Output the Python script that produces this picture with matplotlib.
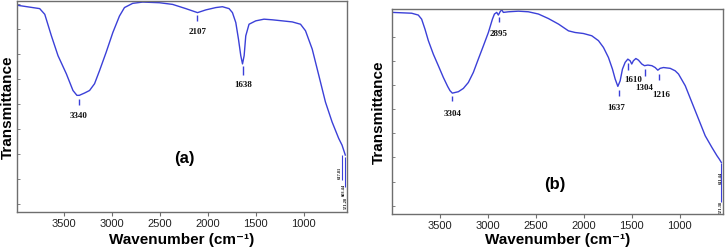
import matplotlib.pyplot as plt
import numpy as np

# ---- panel (a) spectrum (wavenumber, transmittance %)
wn_a = [3988, 3753, 3700, 3631, 3562, 3475, 3406, 3365, 3340, 3285, 3233, 3181,
        3129, 3060, 2990, 2921, 2869, 2783, 2679, 2505, 2367, 2229, 2107, 2020,
        1916, 1847, 1778, 1743, 1708, 1680, 1656, 1638, 1621, 1604, 1570, 1500,
        1414, 1327, 1223, 1119, 1033, 981, 911, 842, 773, 704, 635, 600, 566]
t_a = [98.0, 96.4, 93.7, 83.5, 74.1, 65.5, 57.6, 55.3, 55.3, 56.4, 57.6, 60.8,
       67.0, 75.7, 85.1, 92.9, 96.9, 98.9, 99.5, 99.2, 98.4, 96.4, 94.5, 95.8,
       96.9, 97.3, 96.4, 94.5, 89.8, 81.9, 74.1, 70.2, 74.1, 83.5, 89.0, 90.6,
       91.4, 91.1, 90.6, 90.1, 89.0, 85.9, 77.2, 64.7, 52.1, 42.7, 34.9, 31.7, 27.0]

# ---- panel (b) spectrum
wn_b = [3997, 3795, 3726, 3691, 3656, 3621, 3569, 3517, 3465, 3420, 3395, 3371,
        3308, 3256, 3204, 3152, 3100, 3047, 2995, 2953, 2932, 2908, 2891, 2873,
        2856, 2839, 2786, 2682, 2578, 2473, 2369, 2264, 2160, 2091, 2004, 1917,
        1847, 1795, 1743, 1701, 1673, 1645, 1621, 1597, 1569, 1541, 1517, 1500,
        1483, 1457, 1430, 1395, 1367, 1332, 1290, 1256, 1228, 1204, 1169, 1099,
        1047, 1012, 942, 873, 803, 734, 664, 612, 587, 566]
t_b = [98.4, 98.0, 97.1, 95.1, 90.2, 84.6, 78.0, 72.4, 66.7, 62.3, 60.2, 59.0,
       59.7, 61.3, 64.2, 69.1, 75.6, 82.1, 88.6, 95.1, 97.6, 98.4, 97.1, 98.7,
       99.7, 98.4, 98.7, 99.0, 98.7, 97.6, 95.4, 92.7, 89.4, 88.6, 88.1, 87.0,
       84.6, 81.3, 76.4, 70.7, 65.9, 62.3, 65.0, 70.7, 74.0, 75.6, 74.8, 73.2,
       74.8, 75.9, 75.1, 73.2, 72.4, 72.7, 72.4, 71.5, 70.2, 71.1, 71.5, 71.1,
       69.9, 68.3, 62.6, 54.5, 46.3, 38.2, 32.5, 28.5, 26.8, 25.2]

# peak markers: marker x, marker top/bottom, label text, label x, label y
pk_a_x = [3347, 2110, 1638]
pk_a_top = [53.5, 93.5, 69.0]
pk_a_bot = [50.5, 90.5, 65.0]
pk_a_txt = ["3340", "2107", "1638"]
pk_a_lx = [3347, 2110, 1630]
pk_a_ly = [48.0, 87.5, 62.5]

pk_b_x = [3371, 2884, 1638, 1534, 1367, 1221]
pk_b_top = [57.5, 96.0, 60.5, 73.5, 71.0, 68.5]
pk_b_bot = [55.0, 93.5, 57.5, 70.5, 67.5, 65.5]
pk_b_txt = ["3304", "2895", "1637", "1610", "1304", "1216"]
pk_b_lx = [3371, 2884, 1660, 1480, 1375, 1196]
pk_b_ly = [51.5, 90.5, 54.0, 68.0, 64.0, 60.5]

blue = "#3b40d8"
spine_col = "#6e6e6e"
sans = ["Liberation Sans", "DejaVu Sans"]

fig = plt.figure(figsize=(7.25, 2.53), dpi=100)
ax1 = fig.add_axes([0.0234, 0.158, 0.455, 0.834])
ax2 = fig.add_axes([0.5407, 0.150, 0.4566, 0.810])


def style(ax, xl, ylab_x, xlab_y):
    ax.set_xlim(*xl)
    ax.set_ylim(0, 100)
    ax.set_xticks([3500, 3000, 2500, 2000, 1500, 1000])
    ax.set_yticks(np.arange(4, 100, 11.8))
    ax.set_yticklabels([])
    ax.tick_params(axis="x", direction="out", length=3, width=0.8,
                   color=spine_col, labelsize=8, labelcolor="#222222", pad=1)
    ax.tick_params(axis="y", direction="in", length=2, width=0.6, color=spine_col)
    for lab in ax.get_xticklabels():
        lab.set_family(sans)
    for s in ax.spines.values():
        s.set_color(spine_col)
        s.set_linewidth(1.0)
    ax.set_xlabel("Wavenumber (cm\u207b\u00b9)", fontsize=11, fontweight="bold",
                  family=sans, va="center")
    ax.set_ylabel("Transmittance", fontsize=11, fontweight="bold", family=sans,
                  va="center")
    ax.yaxis.set_label_coords(ylab_x, 0.5)
    ax.xaxis.set_label_coords(0.5, xlab_y)


style(ax1, (3990, 550), -0.028, -0.128)
style(ax2, (4000, 548), -0.04, -0.122)

ax1.plot(wn_a, t_a, color=blue, lw=1.0)
ax2.plot(wn_b, t_b, color=blue, lw=1.0)

for ax, px, ptop, pbot, txt, lx, ly in [
        (ax1, pk_a_x, pk_a_top, pk_a_bot, pk_a_txt, pk_a_lx, pk_a_ly),
        (ax2, pk_b_x, pk_b_top, pk_b_bot, pk_b_txt, pk_b_lx, pk_b_ly)]:
    ax.vlines(px, pbot, ptop, color=blue, lw=1.0)
    for t, x, y in zip(txt, lx, ly):
        ax.text(x, y, t, ha="center", va="top", fontsize=6.5, fontweight="bold",
                family="Liberation Serif", color="#111111")

# cluttered tiny labels at the low-wavenumber end
ax1.vlines([605, 565], [15, 12], [27, 26], color=blue, lw=0.8)
for x, y, t in [(625, 19, "617.81"), (585, 11, "603.44"), (565, 5, "571.28")]:
    ax1.text(x, y, t, rotation=90, ha="center", va="center", fontsize=3.2,
             fontweight="bold", family="Liberation Serif", color="#111111")
ax2.vlines([566], [6], [25], color=blue, lw=0.8)
for x, y, t in [(566, 18, "611.44"), (566, 4, "571.38")]:
    ax2.text(x, y, t, rotation=90, ha="center", va="center", fontsize=3.2,
             fontweight="bold", family="Liberation Serif", color="#111111")

ax1.text(2245, 26, "(a)", ha="center", va="center", fontsize=12,
         fontweight="bold", family=sans)
ax2.text(2300, 15, "(b)", ha="center", va="center", fontsize=12,
         fontweight="bold", family=sans)

fig.savefig("out.png", dpi=100)
